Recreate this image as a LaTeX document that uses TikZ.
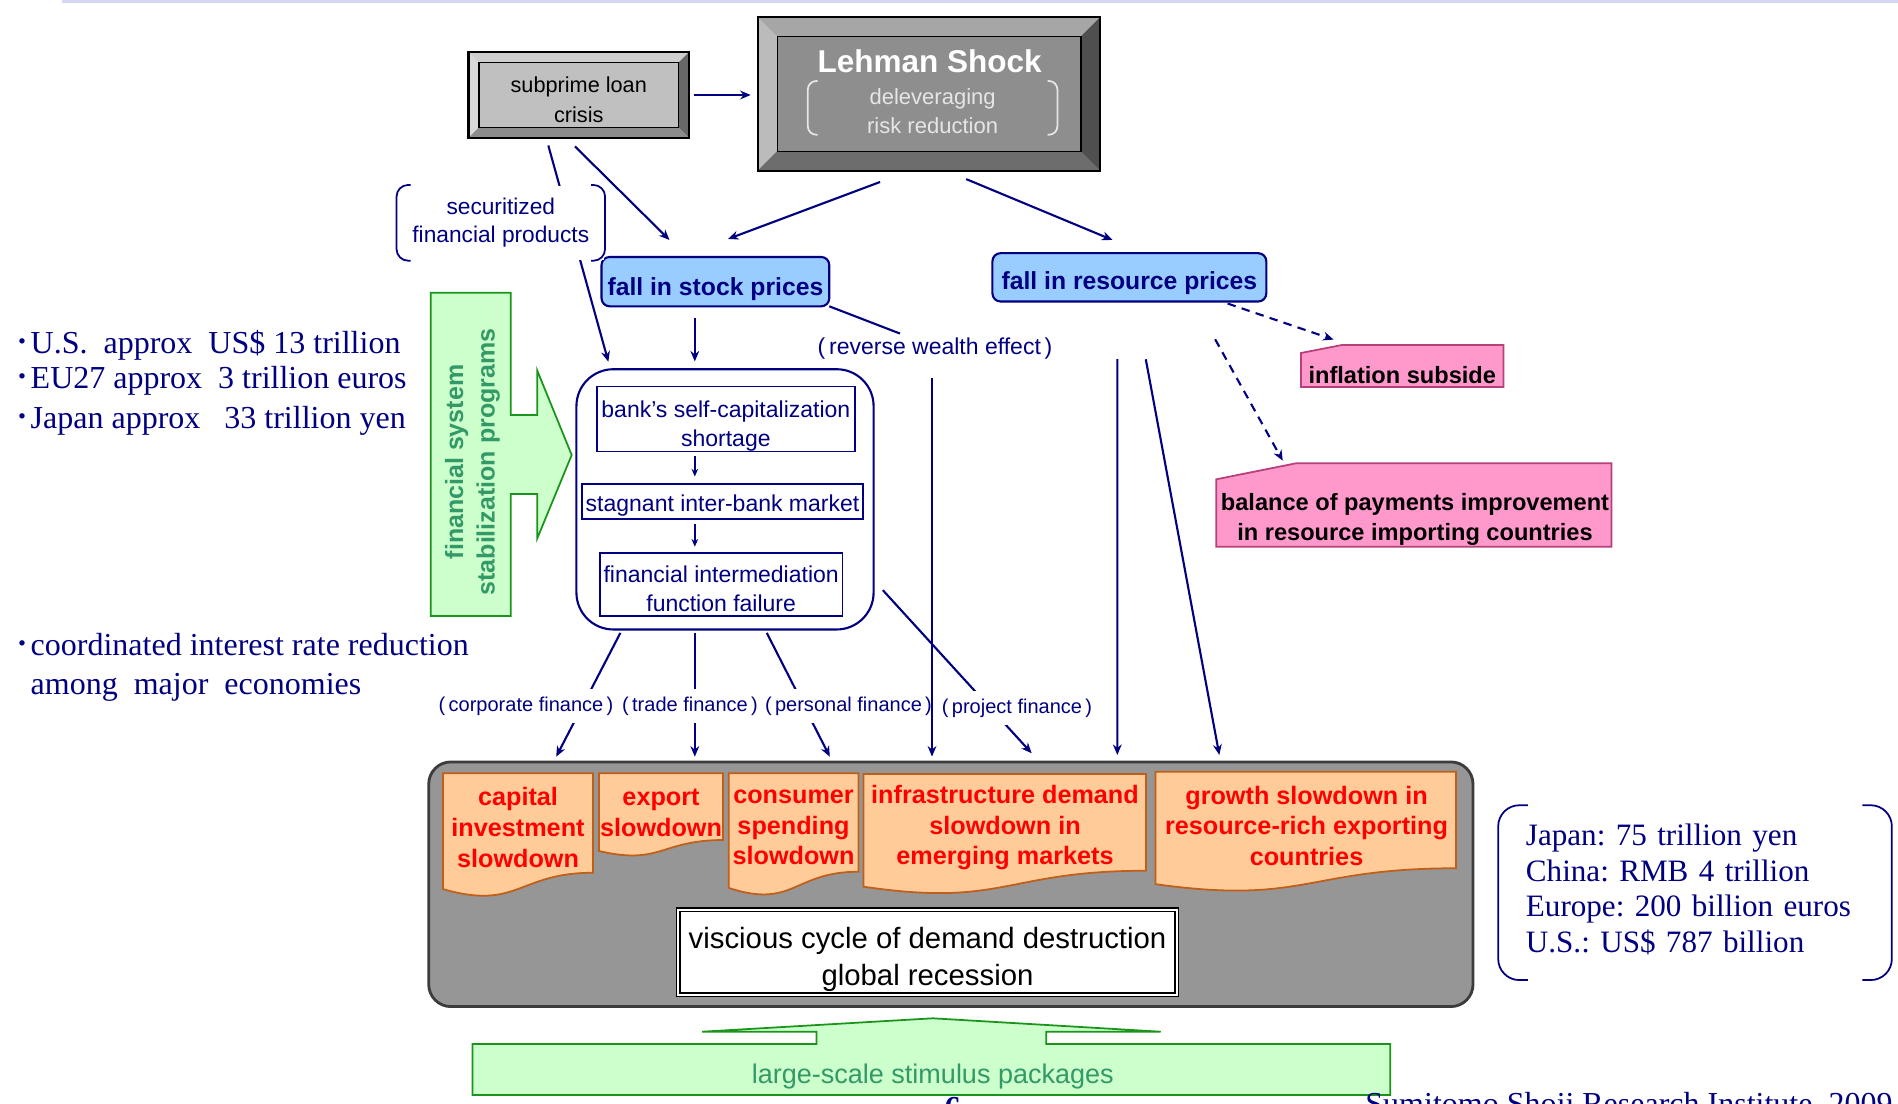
\documentclass[tikz,border=0pt]{standalone}
\usepackage{fontspec}
\setmainfont{Liberation Serif}
\newfontfamily\gothic{Liberation Sans}
\newfontfamily\cjk{Noto Sans CJK JP}
\usetikzlibrary{arrows.meta,calc}
\frenchspacing

\definecolor{navy}{RGB}{0,0,128}
\definecolor{skyfill}{HTML}{99CCFF}
\definecolor{pinkfill}{HTML}{FF99CC}
\definecolor{pinkline}{HTML}{B8407A}
\definecolor{orfill}{HTML}{FFCC99}
\definecolor{orline}{HTML}{BF5F1A}
\definecolor{grfill}{HTML}{CCFFCC}
\definecolor{grline}{HTML}{1A941A}
\definecolor{grtext}{HTML}{339966}
\definecolor{panelgray}{HTML}{969696}
\definecolor{paneledge}{HTML}{3C3C3C}
\definecolor{topline}{HTML}{D7D7F5}
\definecolor{subface}{HTML}{C0C0C0}
\definecolor{subtop}{HTML}{CFCFCF}
\definecolor{subleft}{HTML}{D9D9D9}
\definecolor{subright}{HTML}{686868}
\definecolor{subbot}{HTML}{8C8C8C}
\definecolor{lehface}{HTML}{8E8E8E}
\definecolor{lehtop}{HTML}{A6A6A6}
\definecolor{lehleft}{HTML}{BBBBBB}
\definecolor{lehright}{HTML}{4F4F4F}
\definecolor{lehbot}{HTML}{6D6D6D}
\definecolor{lehsub}{HTML}{E6E6E6}

\newcommand\fsz[2]{\fontsize{#1}{#2}\selectfont}
\newcommand\lift[1]{\rule{0pt}{#1}}

% bevelled frame round a node: node, depth, top, left, right, bottom
\newcommand\bevelframe[6]{%
  \fill[#3] (#1.north west) -- (#1.north east) -- ([shift={(-#2,#2)}]#1.north east) -- ([shift={(#2,#2)}]#1.north west) -- cycle;
  \fill[#4] (#1.north west) -- ([shift={(#2,#2)}]#1.north west) -- ([shift={(#2,-#2)}]#1.south west) -- (#1.south west) -- cycle;
  \fill[#5] (#1.north east) -- (#1.south east) -- ([shift={(-#2,-#2)}]#1.south east) -- ([shift={(-#2,#2)}]#1.north east) -- cycle;
  \fill[#6] (#1.south west) -- ([shift={(#2,-#2)}]#1.south west) -- ([shift={(-#2,-#2)}]#1.south east) -- (#1.south east) -- cycle;
  \draw[line width=0.4pt] ([shift={(#2,#2)}]#1.north west) rectangle ([shift={(-#2,-#2)}]#1.south east);
  \draw[line width=0.6pt] (#1.north west) rectangle (#1.south east);}

% a pair of round brackets round a node: node, hook, style
\newcommand\bracketpair[3]{%
  \draw[#3] ([xshift=#2]#1.north west) -- (#1.north west) -- (#1.south west) -- ([xshift=#2]#1.south west);
  \draw[#3] ([xshift=-#2]#1.north east) -- (#1.north east) -- (#1.south east) -- ([xshift=-#2]#1.south east);}

\begin{document}
\begin{tikzpicture}[x=0.01cm, y=-0.01cm, >={Stealth[length=3pt,width=2.5pt]},
  arr/.style={->, navy, line width=0.6pt},
  darr/.style={arr, dash pattern=on 2.4pt off 1.8pt},
  sarr/.style={-{Stealth[length=2.2pt,width=1.9pt]}, navy, line width=0.45pt},
  bevelbox/.style={inner sep=0, outer sep=0, align=center},
  pricebox/.style={draw=navy, fill=skyfill, rounded corners=2.3pt, line width=0.6pt, inner sep=0, outer sep=0, text=navy, font=\gothic\bfseries\fsz{7.03}{8.5}},
  grpbox/.style={draw=navy, rounded corners=10.5pt, line width=0.6pt, inner sep=0, outer sep=0},
  inbox/.style={draw=navy, line width=0.5pt, inner sep=0, outer sep=0, align=center, text=navy, font=\gothic\fsz{6.54}{8.31}},
  finlbl/.style={fill=white, inner xsep=1pt, inner ysep=2.2pt, text=navy, font=\gothic\fsz{5.69}{7}},
  doc/.style={fill=orfill, draw=orline, line width=0.5pt},
  doctext/.style={align=center, text=red, inner sep=0, font=\gothic\bfseries\fsz{7.17}{8.76}},
  pinkshape/.style={fill=pinkfill, draw=pinkline, line width=0.5pt},
  pinktext/.style={align=center, inner sep=0, font=\gothic\bfseries\fsz{6.71}{8.37}},
  greenshape/.style={fill=grfill, draw=grline, line width=0.5pt},
  greentext/.style={text=grtext, align=center, inner sep=0},
  serif/.style={text=navy, inner sep=0, font=\rmfamily\fsz{9.1}{10.1}}]
\useasboundingbox (0,0) rectangle (1898,1104);
\clip (0,0) rectangle (1898,1104);
\fill[white] (0,0) rectangle (1898,1104);
\fill[topline] (62,0) rectangle (1898,3.5);

% slowdown panel
\node[fill=panelgray, draw=paneledge, line width=0.8pt, rounded corners=6.3pt, minimum width=10.437cm, minimum height=2.445cm, inner sep=0, outer sep=0] (panel) at (950.85,884.25) {};
\foreach \xa/\xb/\t/\h in {443/593/773.3/124, 598.9/723/773.3/83.2, 728.7/858.4/773.3/122.7, 863.4/1146/774/120.6, 1155.5/1456/771.7/120.4}
  \draw[doc] (\xa,\t) -- (\xb,\t) -- (\xb,{\t+0.802*\h}) .. controls ({(\xa+\xb)/2},{\t+0.802*\h}) and ({(\xa+\xb)/2},{\t+1.1075*\h}) .. (\xa,{\t+0.934*\h}) -- cycle;
\node[doctext] (capinv) at (518,827.5) {capital\\investment\\slowdown};
\node[doctext] (export) at (661,812.5) {export\\slowdown};
\node[doctext] (consum) at (793.5,827.5) {consumer\\spending\\slowdown};
\node[doctext] (infra) at (1005,827.7) {infrastructure demand\\slowdown in\\emerging markets};
\node[doctext] (growth) at (1306.5,825.9) {growth slowdown in\\resource-rich exporting\\countries};
\node[draw, double, double distance=0.6pt, line width=0.45pt, fill=white, minimum width=4.98cm, minimum height=0.85cm, inner sep=0, align=center, font=\gothic\fsz{8.34}{10.44}] (vc) at (927.5,952.3) {\lift{10pt}viscious cycle of demand destruction\\global recession};

% green block arrows
\draw[greenshape] (430.7,292.7) -- (510.7,292.7) -- (510.7,415) -- (537.3,415) -- (537.3,370.7) -- (571.7,455) -- (537.3,538.3) -- (537.3,494) -- (510.7,494) -- (510.7,616) -- (430.7,616) -- cycle;
\node[greentext, rotate=90, font=\gothic\bfseries\fsz{7.11}{8.99}] (fsp) at (472.5,462) {financial system\\stabilization programs};
\draw[greenshape] (472.5,1044) -- (816.6,1044) -- (816.6,1031.7) -- (702.2,1031.7) -- (932.8,1018.3) -- (1160.7,1031.7) -- (1046.3,1031.7) -- (1046.3,1044) -- (1390.3,1044) -- (1390.3,1095) -- (472.5,1095) -- cycle;
\node[greentext, font=\gothic\fsz{7.68}{9}] (stim) at (932.8,1076.7) {large-scale stimulus packages};

% bevelled boxes
\node[bevelbox, fill=subface, minimum width=2.205cm, minimum height=0.86cm, font=\gothic\fsz{6.17}{8.54}] (sub) at (578.75,95) {\lift{7.1pt}subprime loan\\crisis};
\bevelframe{sub}{10.5}{subtop}{subleft}{subright}{subbot}
\node[bevelbox, fill=lehface, minimum width=3.425cm, minimum height=1.537cm] (leh) at (929.05,93.85) {};
\bevelframe{leh}{19.5}{lehtop}{lehleft}{lehright}{lehbot}
\node[text=white, inner sep=0, font=\gothic\bfseries\fsz{8.96}{10}] (lehT) at (929.7,61.2) {Lehman Shock};
\node[text=lehsub, align=center, inner sep=0, minimum width=2.48cm, minimum height=0.523cm, font=\gothic\fsz{6.26}{8.37}] (lehS) at (932.6,107.9) {\lift{6.4pt}deleveraging\\risk reduction};
\bracketpair{lehS}{2.8pt}{lehsub, line width=0.5pt, rounded corners=2.4pt}

\node[pricebox, minimum width=2.276cm, minimum height=0.493cm] (stock) at (715.4,281.65) {\lift{9.1pt}fall in stock prices};
\node[pricebox, minimum width=2.737cm, minimum height=0.483cm] (res) at (1129.35,277.35) {\lift{8.5pt}fall in resource prices};

\draw[pinkshape] (1301,353) -- (1342,345) -- (1503.5,345) -- (1503.5,387) -- (1301,387) -- cycle;
\node[pinktext] (infl) at (1402.25,375) {inflation subside};
\draw[pinkshape] (1216.3,479.3) -- (1296,463.3) -- (1611.4,463.3) -- (1611.4,546.7) -- (1216.3,546.7) -- cycle;
\node[pinktext] (bop) at (1415,519.5) {balance of payments improvement\\in resource importing countries};

% banking system
\node[grpbox, minimum width=2.97cm, minimum height=2.601cm] (grp) at (725,499.35) {};
\node[inbox, minimum width=2.583cm, minimum height=0.634cm] (cap1) at (725.85,419) {\lift{8.8pt}bank’s self-capitalization\\shortage};
\node[inbox, minimum width=2.804cm, minimum height=0.344cm] (ibm) at (722.5,501.5) {\lift{7pt}stagnant inter-bank market};
\node[inbox, minimum width=2.423cm, minimum height=0.633cm] (fif) at (721.15,584.35) {\lift{7.4pt}financial intermediation\\function failure};
\coordinate (mid) at (694.8,0);
\draw[sarr, shorten <=1.2pt, shorten >=2.2pt] (cap1.south -| mid) -- (ibm.north -| mid);
\draw[sarr, shorten <=1.6pt, shorten >=1.7pt] (ibm.south -| mid) -- (fif.north -| mid);

% connectors
\draw[arr, shorten <=1.3pt, shorten >=2pt] (sub.east) -- (sub.east -| leh.west);
\draw[arr, shorten <=2.2pt, shorten >=2.2pt] ([xshift=-0.325cm]sub.south) -- ([xshift=-1.145cm]grp.north);
\coordinate (stkA) at (669.5,240);
\coordinate (stkB) at (728,239);
\coordinate (resA) at (1112.5,240);
\draw[arr, shorten <=3.4pt] ([xshift=-0.123cm]sub.south) -- (stkA);
\draw[arr, shorten <=9.1pt] ([xshift=-0.19cm]leh.south) -- (stkB);
\draw[arr, shorten <=6.2pt] ([xshift=0.17cm]leh.south) -- (resA);
\draw[arr, shorten <=3.4pt, shorten >=2.2pt] (stock.south -| mid) -- (grp.north -| mid);

\coordinate (cA) at (556.2,756.7);
\coordinate (tA) at (694.8,756.7);
\coordinate (pA) at (829.8,756.7);
\coordinate (prA) at (1031.7,753.3);
\draw[arr, shorten <=1.1pt] ([xshift=-1.028cm]grp.south) -- (cA);
\draw[arr, shorten <=1.1pt] (grp.south -| tA) -- (tA);
\draw[arr, shorten <=1.1pt] ([xshift=0.40cm]grp.south) -- (pA);
\draw[arr, shorten <=3.9pt] ([yshift=-0.8065cm]grp.east) -- (prA);

\coordinate (rA) at (1117.3,755);
\coordinate (rB) at (1219.3,755);
\coordinate (iA) at (1333.5,339.6);
\coordinate (bA) at (1282.7,460.7);
\draw[arr, shorten <=16.4pt] ([xshift=-0.12cm]res.south) -- (rA);
\draw[arr, shorten <=16.7pt] ([xshift=0.057cm]res.south) -- (rB);
\draw[darr, shorten <=1.8pt] ([xshift=0.922cm]res.south) -- (iA);
\draw[darr, shorten <=12.3pt] ([xshift=0.647cm]res.south) -- (bA);

% labels on the connectors
\node[fill=white, text=navy, align=center, inner sep=0, minimum width=2.07cm, minimum height=0.743cm, font=\gothic\fsz{6.46}{8.05}] (sec) at (500.8,222.85) {securitized\\financial products};
\bracketpair{sec}{4pt}{navy, line width=0.5pt, rounded corners=3.3pt}
\node[finlbl] (corp) at (526,706) {(\,corporate finance\,)};
\node[finlbl] (trade) at (690,706) {(\,trade finance\,)};
\node[finlbl] (pers) at (848.5,706) {(\,personal finance\,)};
\node[finlbl] (proj) at (1017,708) {(\,project finance\,)};

\node[text=navy, inner sep=1pt, font=\gothic\fsz{6.54}{8}] (rwe) at (935,348.5) {(\,reverse wealth effect\,)};
\draw[navy, line width=0.6pt] (stock.south east) -- ([xshift=-0.35cm]rwe.north);
\coordinate (wx) at (932,756.6);
\draw[arr, shorten <=4.1pt] (rwe.south -| wx) -- (wx);

% side notes
\node[serif, anchor=base west] (usA) at (14,354) {{\cjk ･}U.S.~~approx~~US\$ 13 trillion};
\node[serif, anchor=base west] (euA) at (14,388.3) {{\cjk ･}EU27 approx~~3 trillion euros};
\node[serif, anchor=base west] (jpA) at (14,428.3) {{\cjk ･}Japan approx~~~33 trillion yen};
\node[serif, anchor=base west] (rate1) at (14,656) {{\cjk ･}coordinated interest rate reduction};
\node[serif, anchor=base west] (rate2) at (30,695) {among~~major~~economies};

\node[serif, align=left, text width=3.38cm, inner xsep=0.27cm, minimum height=1.733cm, font=\rmfamily\fsz{8.85}{10.1}] (pkg) at (1695,892.65) {Japan: 75 trillion yen\\China: RMB 4 trillion\\Europe: 200 billion euros\\U.S.: US\$ 787 billion\rule[-2.5pt]{0pt}{0pt}};
\bracketpair{pkg}{8.4pt}{navy, line width=0.5pt, rounded corners=6pt}

\node[serif, anchor=base west, font=\rmfamily\bfseries\fsz{9.1}{10.1}] (pg) at (944,1118) {6};
\node[serif, anchor=base west] (inst) at (1364.7,1114) {Sumitomo Shoji Research Institute~~2009};
\end{tikzpicture}
\end{document}
